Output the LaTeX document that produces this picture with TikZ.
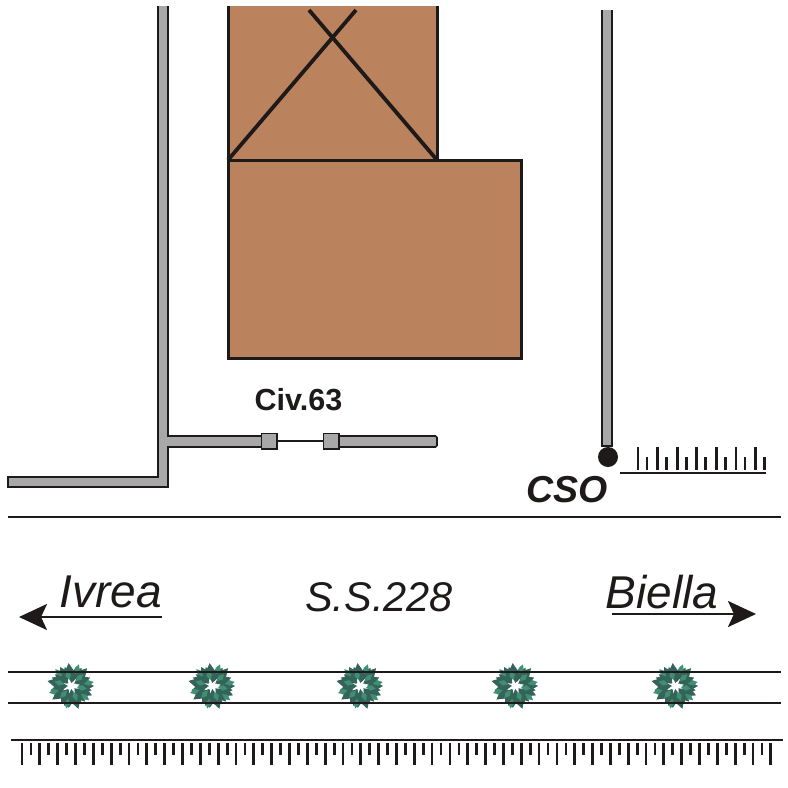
\documentclass[tikz,border=0pt]{standalone}
\usepackage{fontspec}
\setmainfont{Liberation Sans}
\usetikzlibrary{arrows.meta}
\definecolor{building}{HTML}{BB835D}
\definecolor{pipegray}{HTML}{A8A8A8}
\definecolor{inkdark}{HTML}{1E1A1A}
\definecolor{leafa}{HTML}{3F9072}
\definecolor{leafb}{HTML}{35635A}
\tikzset{
    wall/.style={draw=inkdark,line width=3pt},
    pipe/.style={draw=inkdark,line width=1.6pt,fill=pipegray},
    valve/.style={draw=inkdark,line width=1.5pt,fill=pipegray,minimum size=15.5pt,inner sep=0pt},
    rule/.style={inkdark,line width=2pt},
    tick/.style={inkdark,line width=2.8pt},
    road/.style={-{Stealth[length=28pt,width=26pt,inset=6pt]},inkdark,line width=2.4pt},
    tree/.pic={
        % dark ground of the crown, then loose leaves
        \foreach \a/\r in {0/15,24/13,48/16,72/12,96/15,120/14,144/12,168/16,192/13,216/15,240/12,264/14,288/16,312/13,336/15}
            \fill[leafb,rotate=\a] (\r-8,0) -- (\r,-4.5) -- (\r+8,0) -- (\r,4.5) -- cycle;
        \foreach \a/\r in {12/14,36/10,60/15,84/9,108/14,132/10,156/15,180/9,204/14,228/10,252/15,276/9,300/14,324/10,348/15}
            \fill[leafb,rotate=\a] (\r-6,0) -- (\r,-3.5) -- (\r+6,0) -- (\r,3.5) -- cycle;
        \foreach \a/\r in {10/18,44/12,70/18,105/11,133/18,165/12,198/18,228/11,258/18,292/11,322/18,350/11}
            \fill[leafa,rotate=\a] (\r-5,0) -- (\r,-2.8) -- (\r+5,0) -- (\r,2.8) -- cycle;
    }
}
\begin{document}
\begin{tikzpicture}[x=1pt,y=-1pt]
    \useasboundingbox[fill=white] (0,0) rectangle (788,788);

    % building
    \fill[building] (228,6) rectangle (437,160);
    \fill[building] (228,160) rectangle (521,358);
    \coordinate (roofL) at (228,160);
    \coordinate (roofR) at (437,160);
    \coordinate (lowR) at (521,160);
    \draw[wall] (228,6) -- (roofL) -- (228,358) -- (521,358) -- (lowR) -- (roofR) -- (437,6);
    \draw[wall] (roofL) -- (roofR);
    \draw[wall,line width=3.8pt] (roofL) -- (356,10);
    \draw[wall,line width=3.8pt] (roofR) -- (309,10);

    % pipes
    \fill[pipegray] (158,6) -- (158,477) -- (8,477) -- (8,487) -- (168,487) -- (168,447)
        -- (262,447) -- (262,436) -- (168,436) -- (168,6) -- cycle;
    \draw[inkdark,line width=1.6pt] (158,6) -- (158,477) -- (8,477) -- (8,487) -- (168,487)
        -- (168,447) -- (262,447) (262,436) -- (168,436) -- (168,6);
    \draw[pipe,rounded corners=1.5pt] (338,436) rectangle (437,447);
    \node[valve] (valveA) at (269,441) {};
    \node[valve] (valveB) at (331,441) {};
    \draw[inkdark,line width=1.1pt] (valveA) -- (valveB);
    \node[font=\fontsize{30.5}{32}\selectfont\bfseries,text=inkdark] (civ) at (298.5,399.5) {Civ.63};

    \fill[pipegray] (602,10) rectangle (612,446);
    \draw[inkdark,line width=1.6pt] (602,10) -- (602,446) -- (612,446) -- (612,10);
    \fill[inkdark] (608,457) circle (10);
    \node[font=\fontsize{37.5}{40}\selectfont\bfseries\itshape,text=inkdark] (cso) at (567.5,490) {CSO};

    % short hedge
    \draw[rule] (620,473) -- (766,473);
    \foreach \x in {638,657.6,...,756}
        \draw[tick] (\x,447) -- (\x,470);
    \foreach \x in {647,666.6,...,765}
        \draw[tick] (\x,457) -- (\x,470);

    % road
    \draw[rule] (8,517) -- (781,517);
    \node[font=\fontsize{46}{48}\selectfont\itshape,text=inkdark] (ivrea) at (110.5,592) {Ivrea};
    \node[font=\fontsize{41.5}{44}\selectfont\itshape,text=inkdark] (ss) at (379,597) {S.S.228};
    \node[font=\fontsize{46}{48}\selectfont\itshape,text=inkdark] (biella) at (662,592) {Biella};
    \coordinate (ivreaS) at (162,617);
    \coordinate (ivreaE) at (19,617);
    \coordinate (biellaS) at (612,614);
    \coordinate (biellaE) at (756,614);
    \draw[road] (ivreaS) -- (ivreaE);
    \draw[road] (biellaS) -- (biellaE);

    % trees
    \foreach \x in {71,212,360,515,675}
        \pic at (\x,686) {tree};
    \draw[rule] (8,671.5) -- (781,671.5);
    \draw[rule] (8,702.5) -- (781,702.5);

    % long hedge
    \draw[rule] (11,739.5) -- (783,739.5);
    \foreach \x in {22,39.83,...,776}
        \draw[tick] (\x,743) -- (\x,765);
    \foreach \x in {31,48.83,...,776}
        \draw[tick] (\x,743) -- (\x,755);
\end{tikzpicture}
\end{document}
